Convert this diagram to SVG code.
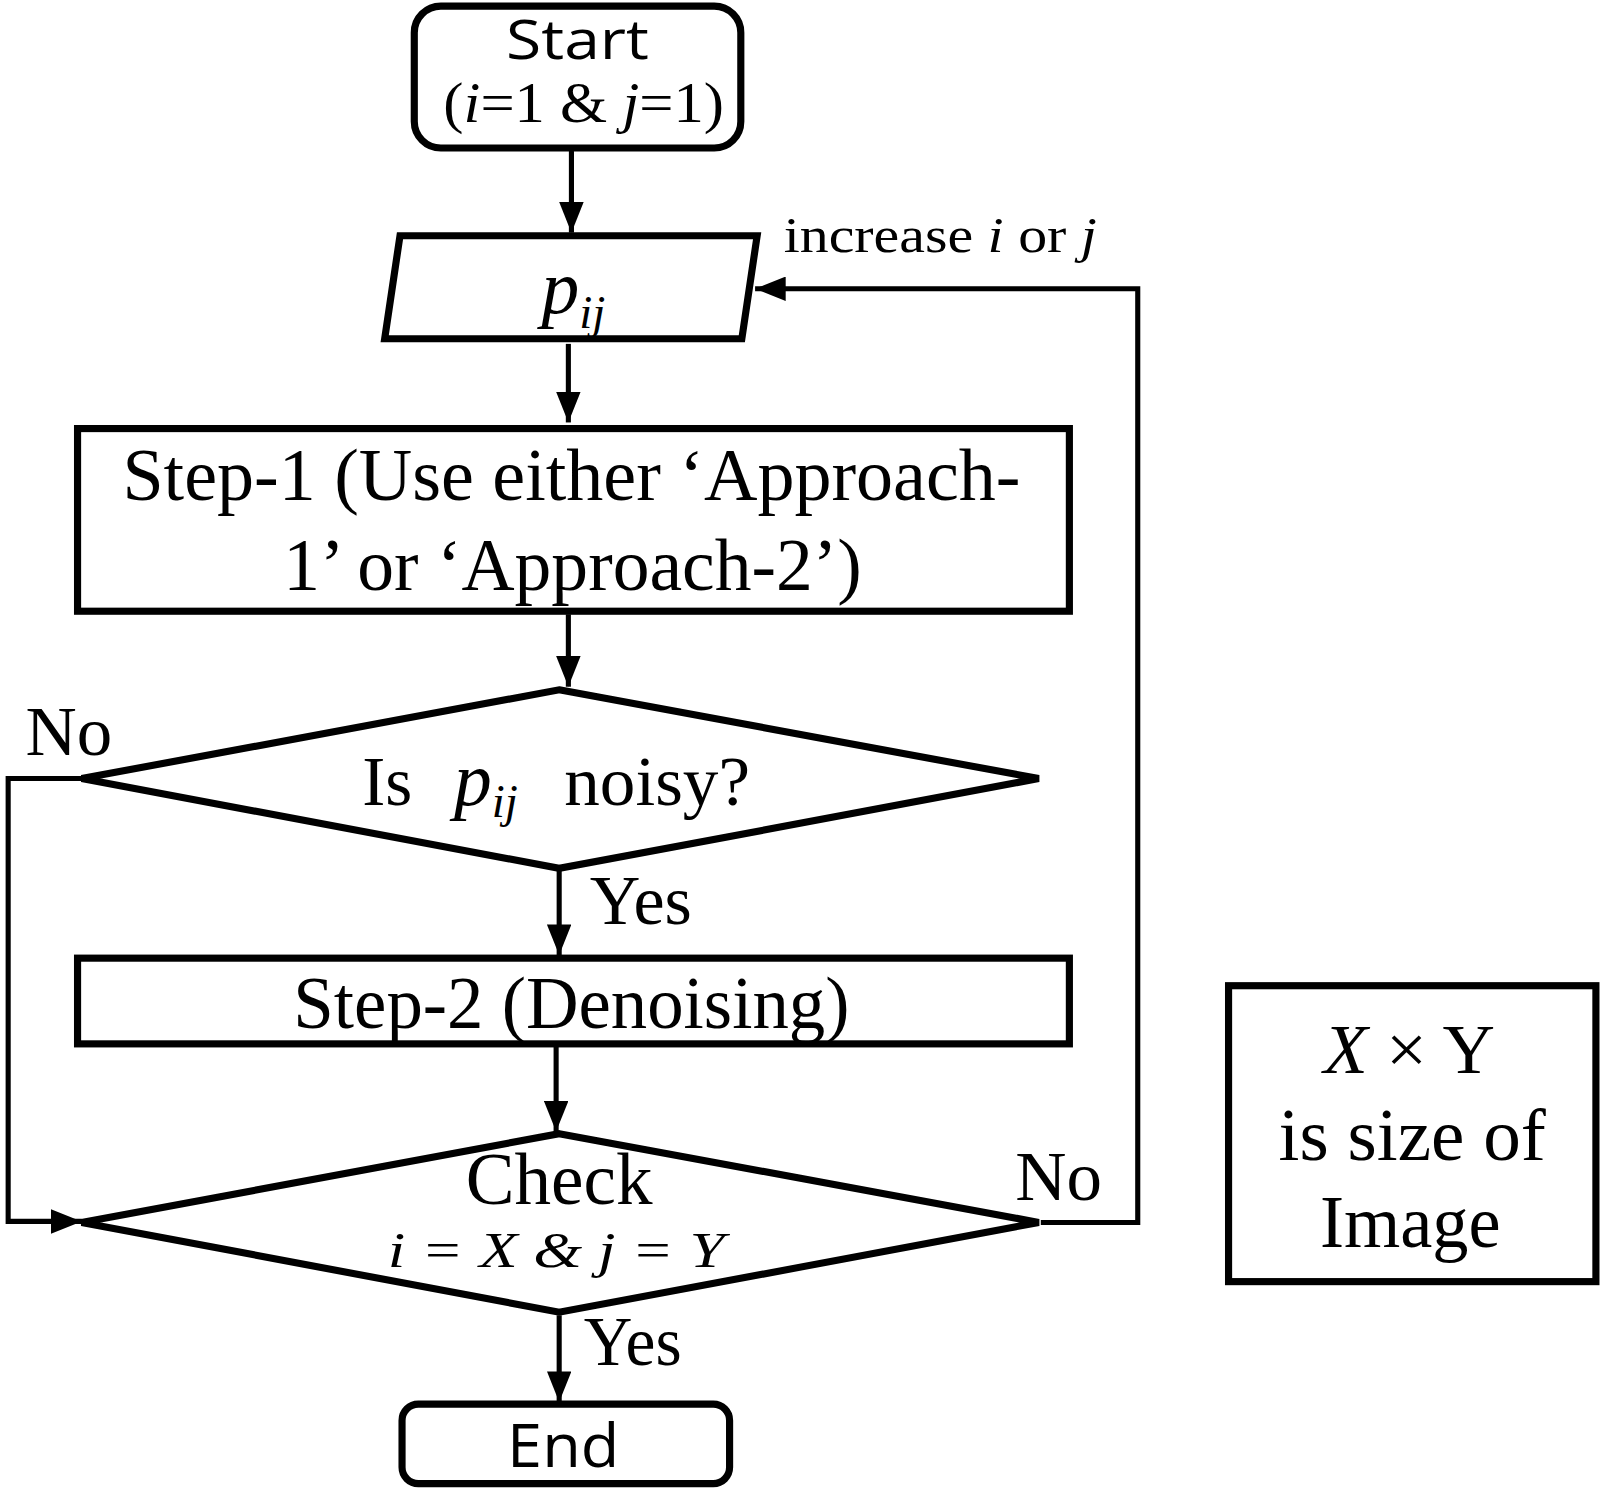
<svg xmlns="http://www.w3.org/2000/svg" width="1600" height="1489" viewBox="0 0 1600 1489">
<style>
.box{fill:#fff;stroke:#000;stroke-width:7;stroke-linejoin:miter}
.ln{fill:none;stroke:#000;stroke-width:5}
.s{font-family:"Liberation Serif","Times New Roman",serif;fill:#000}
.ss{font-family:"Open Sans","Noto Sans","DejaVu Sans",sans-serif;fill:#000}
.i{font-style:italic}
</style>
<defs>
<marker id="av" markerUnits="userSpaceOnUse" markerWidth="30" markerHeight="24" refX="30" refY="12" orient="auto" viewBox="0 0 30 24">
<path d="M0,0 L30,12 L0,24 Z" fill="#000"/>
</marker>
</defs>
<rect width="1600" height="1489" fill="#fff"/>
<g transform="scale(1.0204)">
<g id="connectors">
<line class="ln" x1="560" y1="148" x2="560" y2="228" marker-end="url(#av)"/>
<line class="ln" x1="557" y1="337" x2="557" y2="414" marker-end="url(#av)"/>
<line class="ln" x1="557" y1="602" x2="557" y2="673" marker-end="url(#av)"/>
<line class="ln" x1="548" y1="853" x2="548" y2="936" marker-end="url(#av)"/>
<line class="ln" x1="545" y1="1025" x2="545" y2="1109" marker-end="url(#av)"/>
<line class="ln" x1="548" y1="1289" x2="548" y2="1374" marker-end="url(#av)"/>
<polyline class="ln" points="1020,1198 1115,1198 1115,283 740,283" marker-end="url(#av)"/>
<polyline class="ln" points="80,763 8,763 8,1197 80,1197" marker-end="url(#av)"/>
</g>
<g id="start">
<rect class="box" x="406" y="6" width="320" height="139" rx="26"/>
<text class="ss" x="566" y="58" font-size="54" text-anchor="middle" textLength="140" lengthAdjust="spacingAndGlyphs">Start</text>
<text class="s" x="572" y="120" font-size="56" text-anchor="middle" textLength="275" lengthAdjust="spacingAndGlyphs">(<tspan class="i">i</tspan>=1 &amp; <tspan class="i">j</tspan>=1)</text>
</g>
<g id="input">
<polygon class="box" points="392,231 742,231 727,332 377,332"/>
<text class="s i" x="562" y="307" font-size="74" text-anchor="middle">p<tspan font-size="46" dy="14">ij</tspan></text>
</g>
<text class="s" x="768" y="247" font-size="50" textLength="307" lengthAdjust="spacingAndGlyphs">increase <tspan class="i">i</tspan> or <tspan class="i">j</tspan></text>
<g id="step1">
<rect class="box" x="76" y="420" width="972" height="179"/>
<text class="s" x="560" y="490" font-size="72" text-anchor="middle" textLength="880" lengthAdjust="spacingAndGlyphs">Step-1 (Use either ‘Approach-</text>
<text class="s" x="561" y="578" font-size="72" text-anchor="middle" textLength="567" lengthAdjust="spacingAndGlyphs">1’ or ‘Approach-2’)</text>
</g>
<g id="decision1">
<polygon class="box" points="548,676 1018,763 548,851 80,763"/>
<text class="s" x="355" y="789" font-size="68">Is</text>
<text class="s i" x="445" y="789" font-size="74">p<tspan font-size="46" dy="12">ij</tspan></text>
<text class="s" x="553" y="789" font-size="68" textLength="182" lengthAdjust="spacingAndGlyphs">noisy?</text>
</g>
<text class="s" x="25" y="740" font-size="68" textLength="85" lengthAdjust="spacingAndGlyphs">No</text>
<text class="s" x="578" y="906" font-size="68" textLength="100" lengthAdjust="spacingAndGlyphs">Yes</text>
<g id="step2">
<rect class="box" x="76" y="939" width="972" height="84"/>
<text class="s" x="560" y="1007" font-size="72" text-anchor="middle" textLength="545" lengthAdjust="spacingAndGlyphs">Step-2 (Denoising)</text>
</g>
<g id="decision2">
<polygon class="box" points="548,1111 1018,1198 548,1286 80,1198"/>
<text class="s" x="548" y="1180" font-size="72" text-anchor="middle" textLength="183" lengthAdjust="spacingAndGlyphs">Check</text>
<text class="s i" x="545" y="1242" font-size="50" text-anchor="middle" textLength="330" lengthAdjust="spacingAndGlyphs">i = X &amp; j = Y</text>
</g>
<text class="s" x="995" y="1176" font-size="68" textLength="85" lengthAdjust="spacingAndGlyphs">No</text>
<text class="s" x="572" y="1338" font-size="68" textLength="96" lengthAdjust="spacingAndGlyphs">Yes</text>
<g id="end">
<rect class="box" x="394" y="1376" width="321" height="78" rx="16"/>
<text class="ss" x="552" y="1438" font-size="60" text-anchor="middle" textLength="110" lengthAdjust="spacingAndGlyphs">End</text>
</g>
<g id="note">
<rect class="box" x="1204" y="966" width="360" height="290"/>
<text class="s" x="1381" y="1052" font-size="68" text-anchor="middle" textLength="168" lengthAdjust="spacingAndGlyphs"><tspan class="i">X</tspan> × Y</text>
<text class="s" x="1384" y="1137" font-size="72" text-anchor="middle" textLength="262" lengthAdjust="spacingAndGlyphs">is size of</text>
<text class="s" x="1382" y="1222" font-size="72" text-anchor="middle" textLength="177" lengthAdjust="spacingAndGlyphs">Image</text>
</g>
</g>
</svg>
